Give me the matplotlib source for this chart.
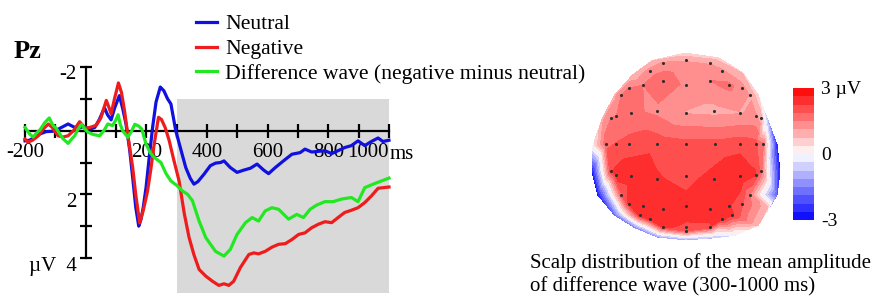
import matplotlib
matplotlib.use('Agg')
import matplotlib.pyplot as plt
import matplotlib.transforms as mtransforms
from matplotlib.lines import Line2D
from matplotlib.patches import Rectangle
import numpy as np

plt.rcParams['font.family'] = ['Liberation Serif', 'DejaVu Serif']

# ERP at Pz (ms, µV; negative is drawn up)
neutral_t = [-200, -185, -170, -150, -130, -110, -100, -80, -58, -40, -25, -10, 0, 15, 30, 45,
             62, 72, 84, 95, 111, 122, 133, 145, 155, 165, 175, 182, 190, 199, 210, 221, 232,
             246, 258, 270, 281, 297, 314, 330, 345, 357, 370, 390, 411, 428, 445, 456, 477,
             499, 521, 543, 565, 587, 603, 625, 652, 680, 707, 723, 745, 767, 789, 811, 832,
             854, 876, 898, 920, 942, 964, 980, 1000]
neutral_v = [0.32, 0.3, 0.22, 0.1, 0.03, 0.02, 0.0, -0.1, -0.21, -0.12, -0.07, -0.12, -0.1,
             -0.05, -0.1, -0.35, -0.72, -0.5, -0.34, -0.7, -1.1, -0.7, -0.21, 0.6, 1.47, 2.4,
             3.0, 2.8, 2.4, 1.79, 0.8, -0.13, -0.9, -1.37, -1.25, -1.0, -0.84, 0.0, 0.6, 1.16,
             1.5, 1.68, 1.6, 1.37, 1.1, 1.02, 1.0, 0.95, 1.16, 1.31, 1.24, 1.18, 1.05, 1.24,
             1.35, 1.16, 0.95, 0.74, 0.69, 0.58, 0.67, 0.65, 0.63, 0.72, 0.63, 0.53, 0.47,
             0.32, 0.47, 0.34, 0.23, 0.34, 0.3]

negative_t = [-200, -190, -175, -156, -140, -123, -110, -91, -75, -58, -40, -20, -8, 2, 20,
              35, 50, 68, 76, 84, 95, 108, 118, 128, 140, 155, 165, 178, 190, 204, 215, 226,
              240, 250, 262, 275, 290, 308, 325, 341, 357, 374, 396, 418, 439, 456, 472, 488,
              510, 538, 554, 570, 592, 614, 636, 658, 680, 702, 723, 745, 767, 789, 811, 832,
              854, 876, 898, 920, 942, 964, 1000]
negative_v = [0.26, 0.36, 0.3, 0.16, -0.05, -0.21, -0.1, 0.16, 0.2, 0.16, 0.0, -0.28, -0.15,
              -0.07, -0.12, -0.17, -0.4, -0.95, -0.75, -0.53, -1.0, -1.5, -1.2, -0.63, 0.2,
              1.16, 2.0, 2.9, 2.5, 1.9, 1.2, 0.42, -0.42, -0.35, -0.1, 0.3, 0.9, 1.58, 2.6,
              3.36, 3.9, 4.36, 4.57, 4.73, 4.86, 4.81, 4.86, 4.73, 4.3, 3.89, 3.84, 3.87,
              3.79, 3.66, 3.57, 3.55, 3.42, 3.26, 3.21, 3.05, 2.94, 2.86, 2.89, 2.73, 2.57,
              2.5, 2.42, 2.26, 2.05, 1.81, 1.77]

diff_t = [-200, -185, -173, -160, -151, -135, -120, -110, -97, -75, -58, -45, -36, -25, -13,
          -3, 8, 25, 46, 60, 73, 89, 100, 107, 114, 122, 139, 152, 162, 174, 185, 199, 213,
          226, 248, 265, 281, 303, 320, 336, 352, 374, 396, 428, 456, 477, 499, 527, 549,
          570, 592, 614, 636, 669, 696, 718, 740, 761, 789, 816, 843, 876, 898, 920, 953, 1000]
diff_v = [-0.1, 0.1, 0.2, 0.05, -0.02, -0.25, -0.4, -0.2, -0.07, 0.25, 0.4, 0.25, 0.16,
          -0.05, -0.2, -0.05, 0.05, 0.12, 0.16, 0.0, -0.21, -0.16, -0.35, -0.5, -0.2, 0.0,
          0.21, 0.0, -0.2, -0.15, -0.05, 0.42, 0.7, 0.84, 1.0, 1.35, 1.58, 1.74, 1.9, 2.0,
          2.2, 2.84, 3.36, 3.79, 3.94, 3.73, 3.26, 2.89, 2.73, 2.84, 2.52, 2.42, 2.47, 2.78,
          2.63, 2.73, 2.47, 2.34, 2.23, 2.23, 2.15, 2.1, 2.23, 1.79, 1.66, 1.49]

x_ticks = [-200, -100, 100, 200, 300, 400, 500, 600, 700, 800, 900, 1000]
x_labels = ['-200', '', '', '200', '', '400', '', '600', '', '800', '', '1000']
y_ticks = [-2, -1, 0, 1, 2, 3, 4]
y_labels = ['-2', '', '', '', '2', '', 'µV  4']

# Scalp map: electrode positions (head units) and mean amplitude (µV)
elec_u = [-0.25, 0, 0.25, -0.38, 0.38,
          -0.61, -0.46, -0.25, 0, 0.25, 0.46, 0.6, -0.69, 0.68,
          -0.8, -0.74, -0.58, -0.31, 0, 0.3, 0.57, 0.74, 0.8,
          -0.85, -0.74, -0.61, -0.31, 0, 0.31, 0.57, 0.74, 0.82,
          -0.8, -0.74, -0.58, -0.31, 0, 0.3, 0.57, 0.74, 0.8,
          -0.69, 0.68,
          -0.61, -0.46, -0.25, 0, 0.25, 0.46, 0.6,
          -0.49, -0.38, 0.38, 0.49, -0.25, 0, 0.25, 0]
elec_w = [0.9, 0.93, 0.9, 0.82, 0.82,
          0.63, 0.66, 0.71, 0.66, 0.71, 0.66, 0.63, 0.55, 0.55,
          0.3, 0.33, 0.36, 0.38, 0.36, 0.38, 0.36, 0.33, 0.3,
          0.02, 0.02, 0.02, 0.02, 0.02, 0.02, 0.02, 0.02, 0.02,
          -0.27, -0.31, -0.33, -0.36, -0.33, -0.36, -0.33, -0.31, -0.27,
          -0.53, -0.53,
          -0.63, -0.65, -0.68, -0.65, -0.68, -0.65, -0.63,
          -0.75, -0.79, -0.79, -0.75, -0.88, -0.88, -0.88, -0.92]
elec_val = [1.2, 1.1, 1.1, 1.3, 1.2,
            1.5, 1.5, 1.8, 1.4, 1.5, 1.6, 1.3, 1.5, 1.1,
            1.5, 1.5, 1.6, 1.4, 1.1, 1.0, 1.1, 1.2, 0.9,
            1.8, 1.9, 2.0, 2.1, 2.0, 2.0, 2.1, 2.0, 1.6,
            2.2, 2.5, 2.6, 2.3, 2.1, 2.4, 2.6, 2.3, 1.7,
            1.8, 1.5,
            2.3, 2.4, 2.5, 2.4, 2.4, 2.3, 1.9,
            2.5, 2.6, 2.5, 2.3, 2.3, 2.2, 2.2, 2.0]
# head outline points and the amplitude read at the rim
rim_u = [-0.01, 0.34, 0.6, 0.77, 0.87, 0.97, 1.0, 0.97, 0.87, 0.77, 0.52, 0.28, 0.0,
         -0.3, -0.54, -0.76, -0.94, -1.0, -0.99, -0.89, -0.76, -0.57, -0.36]
rim_w = [1.01, 0.96, 0.8, 0.55, 0.26, 0.01, -0.28, -0.53, -0.67, -0.86, -0.97, -1.0, -1.02,
         -0.99, -0.89, -0.75, -0.53, -0.28, 0.01, 0.3, 0.55, 0.77, 0.93]
rim_val = [0.5, 0.6, 0.7, 0.5, -0.8, -2.6, -2.8, -2.0, 0.8, 0.8, -0.3, -0.8, -1.0,
           -1.2, -1.5, -1.8, -2.8, -2.8, 0.2, 1.0, 1.0, 0.8, 0.7]

W, H = 875, 297
fig = plt.figure(figsize=(W / 100, H / 100), dpi=100)


def px_axes(x0, y0, x1, y1):
    return fig.add_axes([x0 / W, 1 - y1 / H, (x1 - x0) / W, (y1 - y0) / H])


# ---- ERP panel ----
ax = px_axes(15, 55, 400, 297)
ms_px = 1200 / 364
uv_px = 6 / 191
ax.set_xlim(-200 - 10 * ms_px, 1000 + 11 * ms_px)
ax.set_ylim(4 + 39 * uv_px, -2 - 12 * uv_px)
ax.patch.set_visible(False)

ax.add_patch(Rectangle((300, -1), 700, 6.1, facecolor='#d9d9d9', edgecolor='none', zorder=0))

ax.plot(neutral_t, neutral_v, color='#1010e0', lw=2.3, zorder=3)
ax.plot(negative_t, negative_v, color='#ee1c1c', lw=2.3, zorder=3)
ax.plot(diff_t, diff_v, color='#22e822', lw=2.3, zorder=4)

for s in ['top', 'right']:
    ax.spines[s].set_visible(False)
ax.spines['left'].set_position(('data', 0))
ax.spines['bottom'].set_position(('data', 0))
ax.spines['left'].set_bounds(-2, 4)
ax.spines['bottom'].set_bounds(-200, 1000)
for s in ['left', 'bottom']:
    ax.spines[s].set_linewidth(1.6)
    ax.spines[s].set_zorder(2)

ax.set_xticks(x_ticks, x_labels)
ax.set_yticks(y_ticks, y_labels)
ax.tick_params(axis='x', direction='inout', length=10, width=1.6, pad=4, labelsize=15)
ax.tick_params(axis='y', direction='inout', length=9, width=1.6, pad=2, labelsize=15)
ax.get_xticklabels()[-1].set_ha('right')
ax.text(1002, 0.74, 'ms', ha='left', va='center', fontsize=15)
shift = mtransforms.ScaledTranslation(0, -0.055, fig.dpi_scale_trans)
for lab in ax.get_yticklabels():
    lab.set_transform(lab.get_transform() + shift)

fig.text(14 / W, 1 - 52 / H, 'Pz', fontsize=19, fontweight='bold', va='center')

handles = [Line2D([], [], color='#1010e0', lw=2.3),
           Line2D([], [], color='#ee1c1c', lw=2.3),
           Line2D([], [], color='#22e822', lw=2.3)]
fig.legend(handles, ['Neutral', 'Negative', 'Difference wave (negative minus neutral)'],
           loc='upper left', bbox_to_anchor=(196 / W, 1 - 14 / H), frameon=False,
           fontsize=15.6, handlelength=0.95, handletextpad=0.4, labelspacing=0.22,
           borderpad=0, borderaxespad=0)

# ---- Scalp map ----
tax = px_axes(582.6, 44.8, 789.4, 247.2)
tax.set_xlim(-1.1, 1.1)
tax.set_ylim(-1.1, 1.1)
tax.axis('off')
levels = np.linspace(-3, 3, 17)
cf = tax.tricontourf(elec_u + rim_u, elec_w + rim_w, elec_val + rim_val,
                     levels=levels, cmap='bwr')
tax.scatter(elec_u, elec_w, s=5, color='#303030', zorder=3, linewidths=0)

cax = px_axes(793, 88, 814, 220)
cb = fig.colorbar(cf, cax=cax, ticks=[-3, 0, 3])
cb.outline.set_visible(False)
cb.ax.set_yticklabels(['-3', '0', '3 µV'])
cb.ax.tick_params(length=0, pad=5, labelsize=14)

fig.text(530 / W, 1 - 263 / H, 'Scalp distribution of the mean amplitude',
         fontsize=15, va='center')
fig.text(530 / W, 1 - 287 / H, 'of difference wave (300-1000 ms)',
         fontsize=15, va='center')

fig.savefig('out.png', dpi=100)
plt.close(fig)
